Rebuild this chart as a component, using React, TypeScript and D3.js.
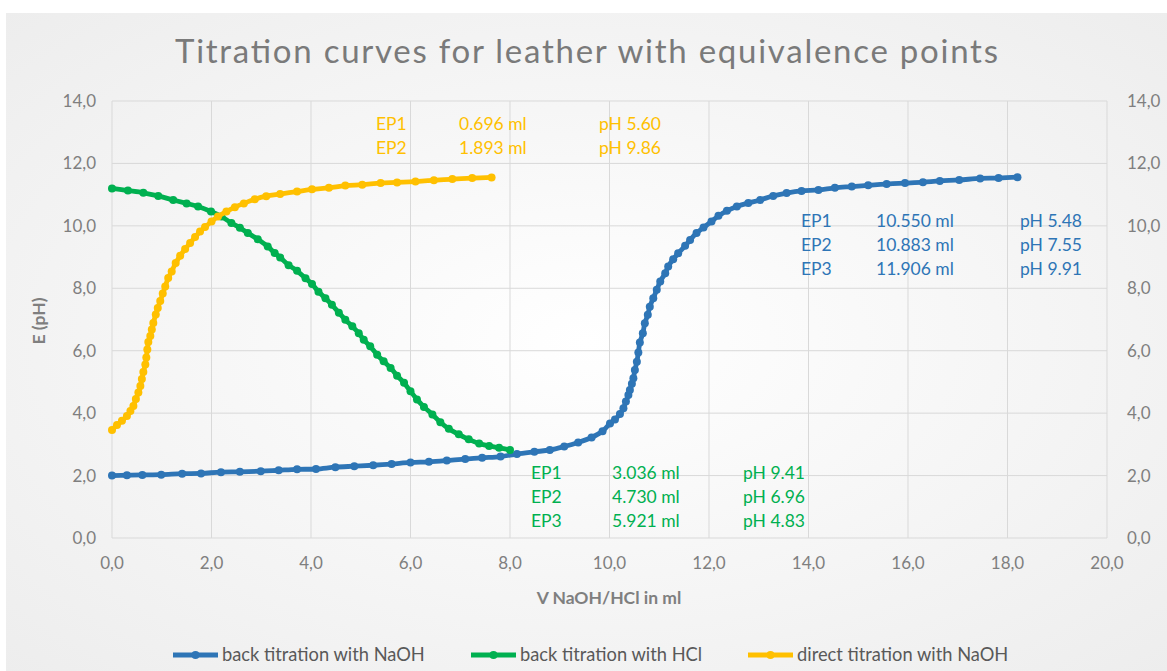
import React from 'react';
import * as d3 from 'd3';

// back titration with NaOH
const blueV = [0, 0.3, 0.61, 0.99, 1.41, 1.79, 2.19, 2.57, 2.99, 3.35, 3.72, 4.1, 4.49, 4.87, 5.25, 5.62, 6.0, 6.37, 6.73, 7.1, 7.44, 7.81, 8.14, 8.49, 8.8, 9.09, 9.37, 9.64, 9.86, 10.01, 10.11, 10.21, 10.28, 10.33, 10.38, 10.41, 10.45, 10.48, 10.51, 10.55, 10.58, 10.61, 10.67, 10.71, 10.77, 10.81, 10.88, 10.95, 11.02, 11.12, 11.18, 11.28, 11.38, 11.52, 11.62, 11.75, 11.89, 12.05, 12.19, 12.36, 12.56, 12.79, 13.03, 13.29, 13.56, 13.86, 14.2, 14.53, 14.87, 15.2, 15.57, 15.94, 16.3, 16.64, 17.03, 17.45, 17.82, 18.2];
const bluePH = [2.0, 2.01, 2.02, 2.03, 2.06, 2.07, 2.11, 2.12, 2.14, 2.17, 2.2, 2.21, 2.27, 2.3, 2.33, 2.37, 2.42, 2.44, 2.48, 2.53, 2.57, 2.61, 2.69, 2.76, 2.82, 2.93, 3.06, 3.22, 3.42, 3.67, 3.8, 3.97, 4.16, 4.37, 4.58, 4.74, 4.94, 5.12, 5.38, 5.65, 5.94, 6.26, 6.56, 6.88, 7.15, 7.41, 7.68, 7.95, 8.22, 8.48, 8.7, 8.93, 9.12, 9.36, 9.55, 9.77, 9.95, 10.14, 10.32, 10.48, 10.62, 10.73, 10.83, 10.96, 11.05, 11.12, 11.15, 11.22, 11.26, 11.3, 11.34, 11.37, 11.4, 11.44, 11.47, 11.52, 11.53, 11.56];

// back titration with HCl
const greenV = [0, 0.32, 0.63, 0.93, 1.23, 1.5, 1.73, 1.99, 2.2, 2.4, 2.57, 2.73, 2.93, 3.13, 3.27, 3.38, 3.55, 3.72, 3.89, 4.02, 4.15, 4.29, 4.42, 4.56, 4.69, 4.83, 4.96, 5.06, 5.19, 5.33, 5.46, 5.6, 5.73, 5.87, 6.0, 6.13, 6.27, 6.44, 6.6, 6.77, 6.97, 7.17, 7.38, 7.58, 7.78, 8.0];
const greenPH = [11.2, 11.13, 11.06, 10.96, 10.83, 10.72, 10.62, 10.46, 10.3, 10.09, 9.94, 9.77, 9.57, 9.34, 9.13, 8.99, 8.74, 8.56, 8.32, 8.14, 7.89, 7.68, 7.47, 7.22, 6.99, 6.78, 6.56, 6.35, 6.14, 5.87, 5.66, 5.45, 5.2, 4.97, 4.7, 4.44, 4.2, 3.96, 3.71, 3.5, 3.32, 3.16, 3.03, 2.95, 2.89, 2.82];

// direct titration with NaOH
const yellowV = [0, 0.1, 0.2, 0.3, 0.37, 0.43, 0.48, 0.53, 0.57, 0.6, 0.63, 0.67, 0.69, 0.71, 0.73, 0.77, 0.8, 0.83, 0.88, 0.92, 0.97, 1.02, 1.07, 1.13, 1.2, 1.28, 1.37, 1.47, 1.57, 1.67, 1.77, 1.87, 2.0, 2.13, 2.3, 2.47, 2.65, 2.87, 3.1, 3.38, 3.72, 4.02, 4.36, 4.69, 5.03, 5.4, 5.73, 6.1, 6.47, 6.84, 7.24, 7.63];
const yellowPH = [3.46, 3.62, 3.76, 3.91, 4.07, 4.23, 4.45, 4.66, 4.87, 5.09, 5.32, 5.56, 5.78, 6.04, 6.28, 6.47, 6.68, 6.89, 7.16, 7.37, 7.59, 7.83, 8.06, 8.33, 8.54, 8.81, 9.04, 9.26, 9.45, 9.64, 9.82, 9.96, 10.14, 10.3, 10.46, 10.6, 10.72, 10.85, 10.95, 11.02, 11.1, 11.17, 11.22, 11.29, 11.32, 11.37, 11.39, 11.42, 11.46, 11.5, 11.53, 11.55];

const xTicks = [0, 2, 4, 6, 8, 10, 12, 14, 16, 18, 20];
const yTicks = [0, 2, 4, 6, 8, 10, 12, 14];

const seriesNames = ['back titration with NaOH', 'back titration with HCl', 'direct titration with NaOH'];
const seriesColors = ['#2E75B6', '#00B050', '#FFC000'];

// equivalence point labels
const yellowEP = [['EP1', '0.696 ml', 'pH 5.60'], ['EP2', '1.893 ml', 'pH 9.86']];
const blueEP = [['EP1', '10.550 ml', 'pH 5.48'], ['EP2', '10.883 ml', 'pH 7.55'], ['EP3', '11.906 ml', 'pH 9.91']];
const greenEP = [['EP1', '3.036 ml', 'pH 9.41'], ['EP2', '4.730 ml', 'pH 6.96'], ['EP3', '5.921 ml', 'pH 4.83']];

const W = 1167;
const H = 671;
const font = 'Lato, "Open Sans", sans-serif';

export default function App() {
  const x = d3.scaleLinear().domain([0, 20]).range([112, 1107]);
  const y = d3.scaleLinear().domain([0, 14]).range([538, 101]);
  const fmt = (d: number) => d.toFixed(1).replace('.', ',');

  const line = d3
    .line<[number, number]>()
    .x((d) => x(d[0]))
    .y((d) => y(d[1]))
    .curve(d3.curveCatmullRom.alpha(0.5));

  const series = [
    blueV.map((v, i) => [v, bluePH[i]] as [number, number]),
    greenV.map((v, i) => [v, greenPH[i]] as [number, number]),
    yellowV.map((v, i) => [v, yellowPH[i]] as [number, number]),
  ];

  const epBlock = (rows: string[][], cols: number[], top: number, color: string, key: string) =>
    rows.map((r, i) => (
      <g key={key + i} fill={color} fontSize={17.5} fontFamily={font}>
        {r.map((t, j) => (
          <text key={j} x={cols[j]} y={top + i * 24}>
            {t}
          </text>
        ))}
      </g>
    ));

  const legendX = [173, 471, 748];

  return (
    <svg width={W} height={H} style={{ position: 'absolute', left: 0, top: 0 }}>
      <defs>
        <radialGradient id="bg" cx="50%" cy="50%" r="75%">
          <stop offset="0%" stopColor="#ffffff" />
          <stop offset="100%" stopColor="#ececec" />
        </radialGradient>
      </defs>
      <rect x={0} y={0} width={W} height={H} fill="#ffffff" />
      <rect x={6} y={13} width={W - 6} height={H - 13} fill="url(#bg)" />

      <text x={175} y={63} fontSize={33} fill="#7a7a7a" fontFamily={font} textLength={823} lengthAdjust="spacing">
        Titration curves for leather with equivalence points
      </text>

      {/* grid */}
      {yTicks.map((t) => (
        <line key={'gy' + t} x1={x(0)} x2={x(20)} y1={y(t)} y2={y(t)} stroke="#d9d9d9" strokeWidth={1} />
      ))}
      {xTicks.map((t) => (
        <line key={'gx' + t} x1={x(t)} x2={x(t)} y1={y(0)} y2={y(14)} stroke="#d9d9d9" strokeWidth={1} />
      ))}

      {/* axis labels */}
      {yTicks.map((t) => (
        <text key={'yl' + t} x={96} y={y(t) + 6} textAnchor="end" fontSize={17} fill="#7f7f7f" fontFamily={font}>
          {fmt(t)}
        </text>
      ))}
      {yTicks.map((t) => (
        <text key={'yr' + t} x={1127} y={y(t) + 6} textAnchor="start" fontSize={17} fill="#7f7f7f" fontFamily={font}>
          {fmt(t)}
        </text>
      ))}
      {xTicks.map((t) => (
        <text key={'xl' + t} x={x(t)} y={569} textAnchor="middle" fontSize={17} fill="#7f7f7f" fontFamily={font}>
          {fmt(t)}
        </text>
      ))}
      <text x={609} y={604} textAnchor="middle" fontSize={17.5} fontWeight="bold" fill="#7f7f7f" fontFamily={font}>
        V NaOH/HCl in ml
      </text>
      <text
        transform="translate(45,321) rotate(-90)"
        textAnchor="middle"
        fontSize={17.5}
        fontWeight="bold"
        fill="#7f7f7f"
        fontFamily={font}
      >
        E (pH)
      </text>

      {/* curves */}
      {series.map((s, i) => (
        <g key={'s' + i}>
          <path d={line(s) || ''} fill="none" stroke={seriesColors[i]} strokeWidth={4.8} strokeLinejoin="round" />
          {s.map((p, j) => (
            <circle key={j} cx={x(p[0])} cy={y(p[1])} r={4} fill={seriesColors[i]} />
          ))}
        </g>
      ))}

      {/* equivalence points */}
      {epBlock(yellowEP, [376, 459, 599], 130, '#FFC000', 'y')}
      {epBlock(blueEP, [801, 876, 1020], 227, '#2E75B6', 'b')}
      {epBlock(greenEP, [531, 612, 743], 479, '#00B050', 'g')}

      {/* legend */}
      {seriesNames.map((n, i) => (
        <g key={'lg' + i}>
          <line x1={legendX[i]} x2={legendX[i] + 45} y1={655} y2={655} stroke={seriesColors[i]} strokeWidth={4.8} />
          <circle cx={legendX[i] + 22.5} cy={655} r={4} fill={seriesColors[i]} />
          <text x={legendX[i] + 49} y={661} fontSize={18.3} fill="#595959" fontFamily={font}>
            {n}
          </text>
        </g>
      ))}
    </svg>
  );
}
